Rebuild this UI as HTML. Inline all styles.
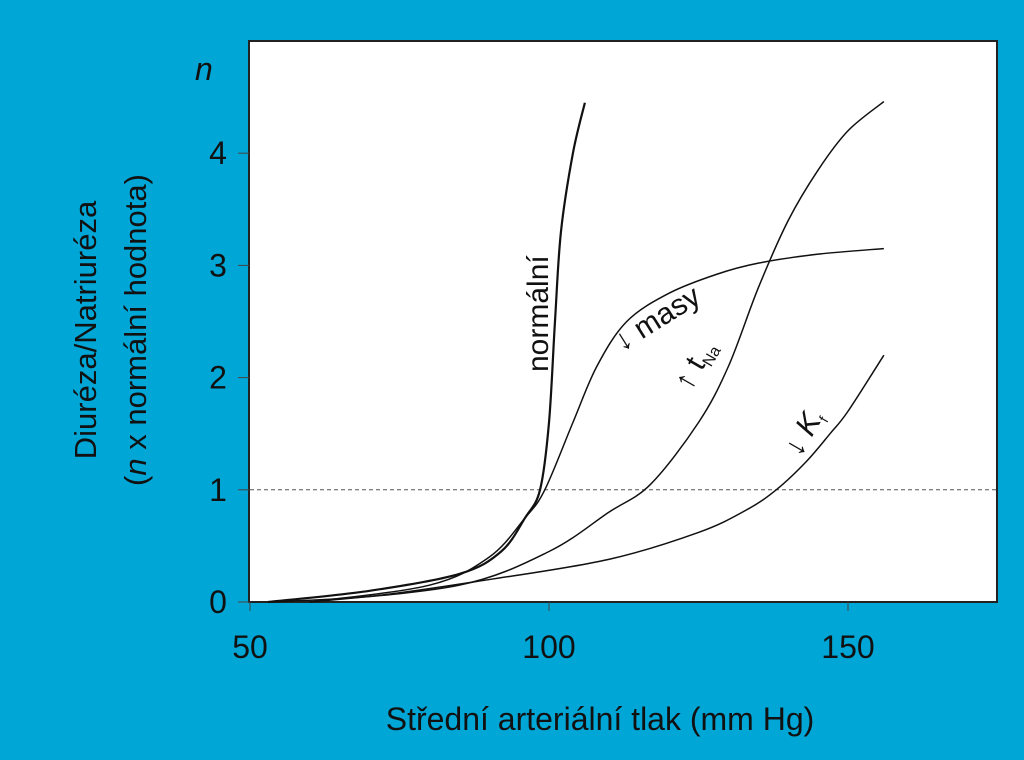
<!DOCTYPE html>
<html><head><meta charset="utf-8"><style>
html,body{margin:0;padding:0;background:#00a6d6;}
svg{display:block;font-family:"Liberation Sans",sans-serif;}
</style></head><body>
<svg width="1024" height="760">
<rect x="0" y="0" width="1024" height="760" fill="#00a6d6"/>
<rect x="249" y="41" width="748" height="561" fill="#fff" stroke="#222" stroke-width="2"/>
<g id="axes"></g>
<g id="series"></g>
<text x="195" y="80" font-size="32" font-style="italic" fill="#111">n</text>
<g transform="translate(96,330) rotate(-90)">
<text x="0" y="0" text-anchor="middle" font-size="31" fill="#111">Diuréza/Natriuréza</text>
<text x="0" y="50" text-anchor="middle" font-size="31" fill="#111">(<tspan font-style="italic">n</tspan> x normální hodnota)</text>
</g>
<text x="600" y="730" text-anchor="middle" font-size="32" fill="#111">Střední arteriální tlak (mm Hg)</text>
<text transform="translate(548,372) rotate(-90)" font-size="30" fill="#111">normální</text>
<text transform="translate(622,352) rotate(-32)" font-size="30" fill="#111">↓ masy</text>
<text transform="translate(690,392) rotate(-60)" font-size="30" fill="#111">↑ t<tspan font-size="16" dy="6">Na</tspan></text>
<text transform="translate(800,458) rotate(-60)" font-size="30" fill="#111">↓ <tspan font-style="italic">K</tspan><tspan font-size="14" dy="6">f</tspan></text>
</svg>
<script>
const xTicks=[50,100,150];
const yTicks=[0,1,2,3,4];
const normalX=[53,70,85,92,96,98.5,100,101,102,104,106];
const normalY=[0,0.1,0.25,0.45,0.75,1.0,1.6,2.5,3.3,4.0,4.45];
const masyX=[60,80,90,96,99.3,104,108,113,120,128,135,145,156];
const masyY=[0,0.15,0.4,0.75,1.0,1.6,2.1,2.5,2.75,2.92,3.02,3.1,3.15];
const tnaX=[60,85,100,110,117,125,130,135,140,145,150,156];
const tnaY=[0,0.15,0.45,0.8,1.05,1.6,2.1,2.8,3.4,3.85,4.2,4.46];
const kfX=[53,70,90,110,125,133,138,143,147,150,156];
const kfY=[0,0.05,0.2,0.38,0.62,0.82,1.0,1.25,1.5,1.7,2.2];
const refLine=[1];
const NS="http://www.w3.org/2000/svg";
function sx(v){return 250+(v-50)*5.98;}
function sy(v){return 602-v*112.2;}
function mk(tag,at,parent){const e=document.createElementNS(NS,tag);for(const k in at)e.setAttribute(k,at[k]);parent.appendChild(e);return e;}
const ax=document.getElementById('axes');
xTicks.forEach(t=>{
 const l=mk('line',{x1:sx(t),x2:sx(t),y1:602,y2:611,stroke:'#444','stroke-width':1},ax);
 
 
 const tx=mk('text',{x:sx(t),y:658,'text-anchor':'middle','font-size':32,fill:'#111'},ax);
 tx.textContent=t;
 
 
});
yTicks.forEach(t=>{
 const l=mk('line',{x1:238,x2:249,y1:sy(t),y2:sy(t),stroke:'#444','stroke-width':1},ax);
 
 
 const tx=mk('text',{x:218,y:sy(t)+11,'text-anchor':'middle','font-size':32,fill:'#111'},ax);
 tx.textContent=t;
 
 
});
refLine.forEach(v=>{
 const l=mk('line',{x1:250,x2:996,y1:sy(v),y2:sy(v),stroke:'#555','stroke-width':1,'stroke-dasharray':'4,3'},ax);
 
 
});
function path(xs,ys){
 const p=xs.map((x,i)=>[sx(x),sy(ys[i])]);
 let d='M'+p[0][0]+','+p[0][1];
 for(let i=0;i<p.length-1;i++){
  const p0=p[i-1]||p[i],p1=p[i],p2=p[i+1],p3=p[i+2]||p[i+1];
  const c1=[p1[0]+(p2[0]-p0[0])/6,p1[1]+(p2[1]-p0[1])/6];
  const c2=[p2[0]-(p3[0]-p1[0])/6,p2[1]-(p3[1]-p1[1])/6];
  d+=' C'+c1+' '+c2+' '+p2;
 }
 return d;
}
const sg=document.getElementById('series');
[[normalX,normalY,'curve-normalni',2.2],[masyX,masyY,'curve-masy',1.5],[tnaX,tnaY,'curve-tna',1.5],[kfX,kfY,'curve-kf',1.5]].forEach(s=>{
 const e=mk('path',{d:path(s[0],s[1]),fill:'none',stroke:'#111','stroke-width':s[3]},sg);
 
 
});
</script>
</body></html>
